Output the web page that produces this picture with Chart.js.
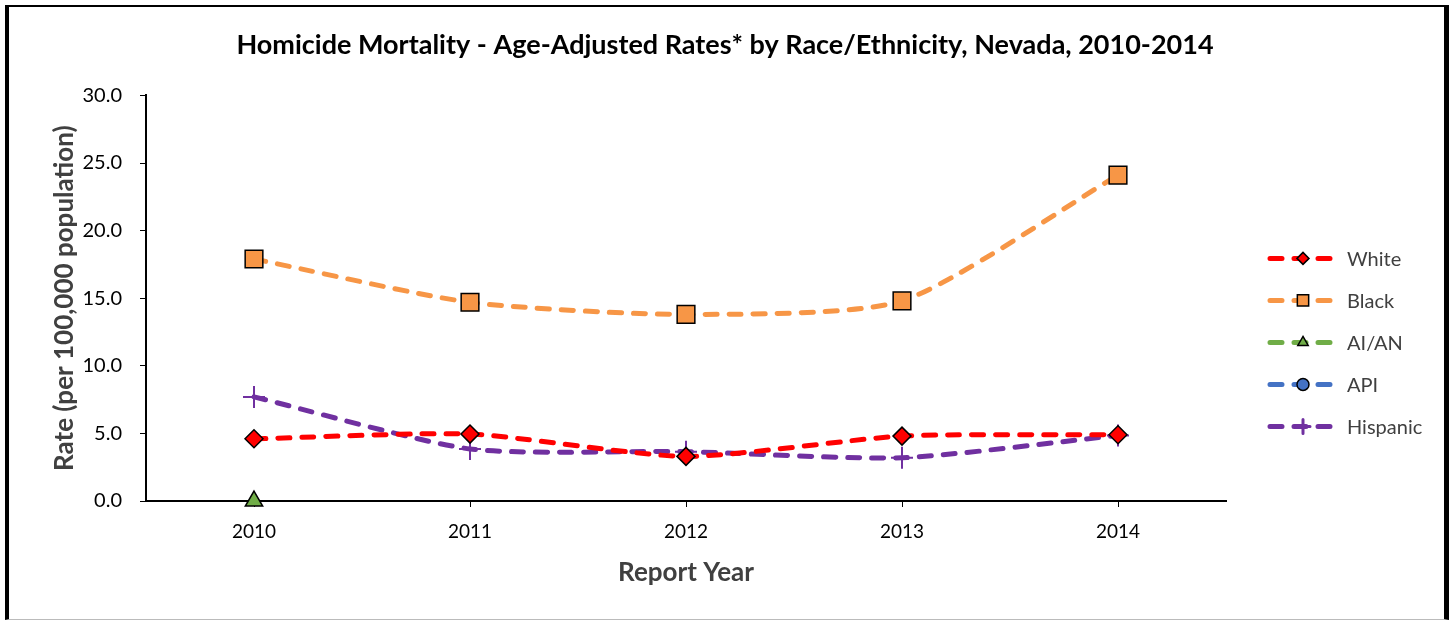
<!DOCTYPE html>
<html>
<head>
<meta charset="utf-8">
<script src="https://cdn.jsdelivr.net/npm/chart.js@4.4.1/dist/chart.umd.min.js"></script>
<style>
  body { margin: 0; background: #fff; }
  #wrap { position: relative; width: 1450px; height: 620px; }
  #frame {
    position: absolute; left: 5px; top: 5px; width: 1435px; height: 612px;
    border-left: 4px solid #000; border-top: 2px solid #000;
    border-right: 5px solid #000; border-bottom: 1px solid #bbb;
    pointer-events: none;
  }
</style>
</head>
<body>
<div id="wrap">
  <canvas id="chart" width="1450" height="620"></canvas>
  <div id="frame"></div>
</div>
<script>
const years = ['2010', '2011', '2012', '2013', '2014'];
const seriesNames = ['White', 'Black', 'AI/AN', 'API', 'Hispanic'];
const white = [4.6, 4.95, 3.3, 4.8, 4.9];
const black = [17.9, 14.7, 13.8, 14.8, 24.1];
const aian = [0.0, null, null, null, null];
const api = [null, null, null, null, null];
const hispanic = [7.7, 3.85, 3.65, 3.2, 4.85];
const yTicks = [0, 5, 10, 15, 20, 25, 30];

const lineColors = ['#FF0000', '#F79646', '#70AD47', '#4472C4', '#7030A0'];
const markerFill = ['#FF0000', '#F79646', '#70AD47', '#4472C4', '#7030A0'];
const markerStyle = ['rectRot', 'rect', 'triangle', 'circle', 'cross'];
const markerSize = [9, 12.5, 10, 8, 11];
const legendSize = [6, 8, 6, 6, 7];
const allValues = [white, black, aian, api, hispanic];

const FONT = 'Lato, "Open Sans", sans-serif';
Chart.defaults.font.family = FONT;
Chart.defaults.color = '#000';

// Excel style legend: dash - marker - dash
const excelLegend = {
    id: 'excelLegend',
    afterDraw(chart) {
        const ctx = chart.ctx;
        const area = chart.chartArea;
        const x0 = area.right + 44;
        const y0 = area.top + 163;
        chart.data.datasets.forEach((ds, i) => {
            const y = y0 + i * 42;
            ctx.save();
            ctx.strokeStyle = ds.borderColor;
            ctx.lineWidth = 5;
            ctx.lineCap = 'round';
            ctx.setLineDash([12, 12]);
            ctx.beginPath();
            ctx.moveTo(x0, y);
            ctx.lineTo(x0 + 60, y);
            ctx.stroke();
            ctx.setLineDash([]);
            ctx.fillStyle = ds.pointBackgroundColor;
            ctx.strokeStyle = ds.pointBorderColor;
            ctx.lineWidth = ds.pointStyle === 'cross' ? 3 : 1.5;
            Chart.helpers.drawPoint(ctx, {
                pointStyle: ds.pointStyle,
                radius: legendSize[i],
                rotation: 0,
                borderWidth: ctx.lineWidth
            }, x0 + 33, y);
            ctx.fillStyle = '#404040';
            ctx.font = '20px ' + FONT;
            ctx.textBaseline = 'middle';
            ctx.fillText(ds.label, x0 + 77, y + 1);
            ctx.restore();
        });
    }
};

const datasets = seriesNames.map((name, i) => ({
    label: name,
    data: allValues[i],
    borderColor: lineColors[i],
    borderWidth: 5,
    borderDash: [12, 12],
    borderCapStyle: 'round',
    tension: 0.22,
    fill: false,
    clip: false,
    pointStyle: markerStyle[i],
    pointRadius: markerSize[i],
    pointBackgroundColor: markerFill[i],
    pointBorderColor: markerStyle[i] === 'cross' ? lineColors[i] : '#000',
    pointBorderWidth: markerStyle[i] === 'cross' ? 2 : 1.5,
    spanGaps: false
}));

new Chart(document.getElementById('chart'), {
    type: 'line',
    data: { labels: years, datasets: datasets },
    options: {
        responsive: false,
        animation: false,
        events: [],
        layout: { padding: 0 },
        plugins: {
            legend: { display: false },
            tooltip: { enabled: false },
            title: {
                display: true,
                text: 'Homicide Mortality - Age-Adjusted Rates* by Race/Ethnicity, Nevada, 2010-2014',
                font: { size: 27, weight: 'bold', family: FONT },
                color: '#000',
                padding: { top: 29, bottom: 34 }
            }
        },
        scales: {
            x: {
                offset: true,
                grid: { drawOnChartArea: false, offset: false, tickLength: 6, color: '#000', tickWidth: 1 },
                border: { color: '#000', width: 2 },
                ticks: { font: { size: 19 }, color: '#000', padding: 13 },
                title: {
                    display: true,
                    text: 'Report Year',
                    font: { size: 26, weight: 'bold' },
                    color: '#404040',
                    padding: { top: 0, bottom: 32 }
                },
                afterFit: s => { s.height = 119; }
            },
            y: {
                min: 0,
                max: 30,
                afterBuildTicks: s => { s.ticks = yTicks.map(v => ({ value: v })); },
                grid: { drawOnChartArea: false, tickLength: 6, color: '#000' },
                border: { color: '#000', width: 2 },
                ticks: {
                    font: { size: 20 },
                    color: '#000',
                    padding: 18,
                    callback: v => v.toFixed(1)
                },
                title: {
                    display: true,
                    text: 'Rate (per 100,000 population)',
                    font: { size: 26, weight: 'bold' },
                    color: '#404040',
                    padding: { top: 49, bottom: 0 }
                },
                afterFit: s => { s.width = 146; }
            },
            spacer: {
                position: 'right',
                display: true,
                grid: { display: false },
                border: { display: false },
                ticks: { display: false },
                afterFit: s => { s.width = 224; }
            }
        }
    },
    plugins: [excelLegend]
});
</script>
</body>
</html>
